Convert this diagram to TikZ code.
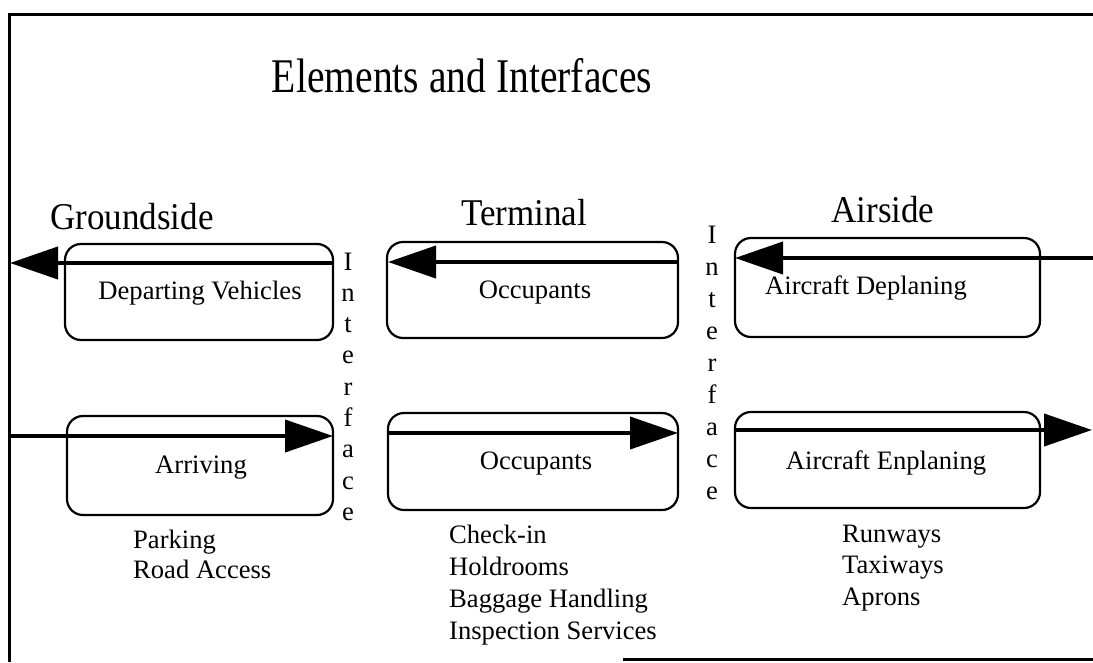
\documentclass[tikz,border=0pt]{standalone}
\usepackage{fontspec}
\setmainfont{Liberation Serif}
\usetikzlibrary{arrows.meta}
\begin{document}
\begin{tikzpicture}[x=1pt,y=-1pt,
  box/.style={draw,line width=2.2pt,rounded corners=16pt,inner sep=0pt},
  flow/.style={line width=4pt,-{Triangle[length=48pt,width=32pt]}},
  lbl/.style={font=\fontsize{26.6}{31}\selectfont,anchor=base,inner sep=0pt},
  lst/.style={font=\fontsize{26.6}{31}\selectfont,anchor=base west,inner sep=0pt},
  head/.style={font=\fontsize{35}{40}\selectfont,anchor=base,inner sep=0pt},
  frame/.style={line width=3pt}
]
\useasboundingbox (0,0) rectangle (1093,662);
% frame
\draw[frame] (1093,14) -- (9,14) -- (9,662);
\draw[frame] (623,659) -- (1093,659);
% title
\node[font=\fontsize{41}{46}\selectfont,anchor=base,inner sep=0pt] (title) at (462,92) {\scalebox{0.965}[1.18]{Elements and Interfaces}};
% headings
\node[head] (hg) at (132,229) {\scalebox{1}[1.08]{Groundside}};
\node[head] (ht) at (524,225) {\scalebox{1}[1.08]{Terminal}};
\node[head] (ha) at (883,222) {\scalebox{1}[1.08]{Airside}};
% boxes
\node[box,minimum width=268pt,minimum height=96pt] (gd) at (199,292) {};
\node[box,minimum width=291pt,minimum height=96pt] (td) at (532.5,290) {};
\node[box,minimum width=305pt,minimum height=99pt] (ad) at (887.5,287.5) {};
\node[box,minimum width=266pt,minimum height=99pt] (ga) at (200,465.5) {};
\node[box,minimum width=290pt,minimum height=97pt] (ta) at (533,461.5) {};
\node[box,minimum width=305pt,minimum height=96pt] (aa) at (887.5,460) {};
% box texts
\node[lbl] (tgd) at (200,299) {Departing Vehicles};
\node[lbl] (ttd) at (535,298) {Occupants};
\node[lbl] (tad) at (866,294) {Aircraft Deplaning};
\node[lbl] (tga) at (201,473) {Arriving};
\node[lbl] (tta) at (536,469) {Occupants};
\node[lbl] (taa) at (886,469) {Aircraft Enplaning};
% arrow end points
\coordinate (gdR) at (333,263);
\coordinate (gdL) at (10,263);
\coordinate (tdR) at (678,262);
\coordinate (tdL) at (388,262);
\coordinate (adR) at (1093,258);
\coordinate (adL) at (735,258);
\coordinate (gaL) at (10,436);
\coordinate (gaR) at (333,436);
\coordinate (taL) at (388,433);
\coordinate (taR) at (678,433);
\coordinate (aaL) at (735,430);
\coordinate (aaR) at (1092,430);
\draw[flow] (gdR) -- (gdL);
\draw[flow] (tdR) -- (tdL);
\draw[flow] (adR) -- (adL);
\draw[flow] (gaL) -- (gaR);
\draw[flow] (taL) -- (taR);
\draw[flow] (aaL) -- (aaR);
% interface columns
\foreach \c [count=\i from 0] in {I,n,t,e,r,f,a,c,e} {
  \node[lbl] (if1-\i) at (348,270+31.3*\i) {\c};
  \node[lbl] (if2-\i) at (712,243+32*\i) {\c};
}
% lists
\node[lst] (g1) at (133,548) {Parking};
\node[lst] (g2) at (133,578) {Road Access};
\node[lst] (t1) at (449,543) {Check-in};
\node[lst] (t2) at (449,575) {Holdrooms};
\node[lst] (t3) at (449,607) {Baggage Handling};
\node[lst] (t4) at (449,639) {Inspection Services};
\node[lst] (a1) at (842,542) {Runways};
\node[lst] (a2) at (842,573) {Taxiways};
\node[lst] (a3) at (842,605) {Aprons};
\end{tikzpicture}
\end{document}
